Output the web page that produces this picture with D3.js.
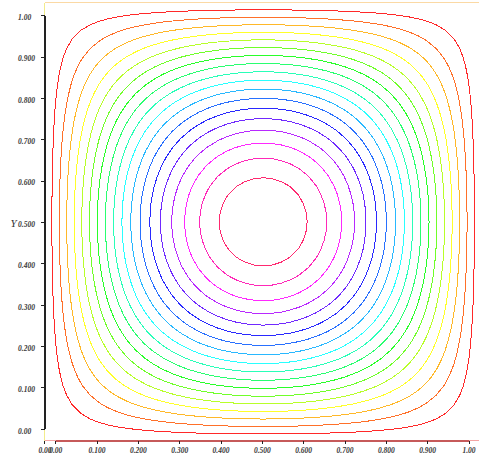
<!DOCTYPE html>
<html>
<head>
<meta charset="utf-8">
<script src="https://cdn.jsdelivr.net/npm/d3@7"></script>
<style>
  html, body { margin: 0; padding: 0; background: #fff; }
  svg { display: block; }
  .tick-label { font-family: "Liberation Serif", "DejaVu Serif", serif; font-style: italic; font-weight: bold; font-size: 7.5px; fill: #3a3a3a; }
  .axis-title { font-family: "Liberation Serif", "DejaVu Serif", serif; font-style: italic; font-size: 11px; fill: #333; }
</style>
</head>
<body>
<svg id="chart" width="479" height="461"></svg>
<script>
// Axis ticks and their labels
const xTickValues = [0, 0.1, 0.2, 0.3, 0.4, 0.5, 0.6, 0.7, 0.8, 0.9, 1.0];
const xTickLabels = ["0.00", "0.100", "0.200", "0.300", "0.400", "0.500", "0.600", "0.700", "0.800", "0.900", "1.00"];
const yTickValues = [0, 0.1, 0.2, 0.3, 0.4, 0.5, 0.6, 0.7, 0.8, 0.9, 1.0];
const yTickLabels = ["0.00", "0.100", "0.200", "0.300", "0.400", "0.500", "0.600", "0.700", "0.800", "0.900", "1.00"];
const originLabel = "0.00";
const yTitle = "Y";

// Extent of the field (zero on its boundary), in axis units
const fieldX = [-0.026, 1.03];
const fieldY = [-0.028, 1.031];

// Contour levels, outermost to innermost
const levels = [0.05, 0.103, 0.156, 0.209, 0.262, 0.315, 0.368, 0.421, 0.474,
                0.526, 0.579, 0.632, 0.685, 0.738, 0.791, 0.844, 0.897, 0.95];
// Hue of each level's line
const levelHues = [0, 20, 40, 60, 80, 100, 120, 140, 160, 180, 200, 220, 240, 260, 280, 300, 320, 340];

const svg = d3.select("#chart");
const x = d3.scaleLinear().domain([0, 1]).range([55.7, 469]);
const y = d3.scaleLinear().domain([0, 1]).range([429.3, 15.7]);

const fx0 = x(fieldX[0]), fx1 = x(fieldX[1]);
const fy0 = y(fieldY[0]), fy1 = y(fieldY[1]);

// Frame around the field
const frame = svg.append("g").attr("shape-rendering", "crispEdges").attr("fill", "none");
frame.append("line").attr("x1", fx0).attr("x2", fx1).attr("y1", fy1).attr("y2", fy1).attr("stroke", "#fbd9a4");
frame.append("line").attr("x1", fx0).attr("x2", fx0).attr("y1", fy1).attr("y2", fy0).attr("stroke", "#f2ec8c");
frame.append("line").attr("x1", fx0).attr("x2", fx1).attr("y1", fy0).attr("y2", fy0).attr("stroke", "#f4a4a4");
frame.append("line").attr("x1", fx1).attr("x2", fx1).attr("y1", fy1).attr("y2", fy0).attr("stroke", "#f4a4a4");

// Field sampled on a regular grid: sin(pi u) * sin(pi v) over the frame
const n = 49;
const values = new Array(n * n);
for (let j = 0; j < n; ++j) {
  for (let i = 0; i < n; ++i) {
    values[j * n + i] = Math.sin(Math.PI * i / (n - 1)) * Math.sin(Math.PI * j / (n - 1));
  }
}
const sx = (fieldX[1] - fieldX[0]) / (n - 1);
const sy = (fieldY[1] - fieldY[0]) / (n - 1);

const contours = d3.contours().size([n, n]).thresholds(levels)(values);
const toScreen = d3.geoTransform({
  point(gx, gy) {
    this.stream.point(x(fieldX[0] + (gx - 0.5) * sx), y(fieldY[0] + (gy - 0.5) * sy));
  }
});
const path = d3.geoPath(toScreen);

svg.append("g")
  .attr("fill", "none")
  .attr("stroke-width", 1)
  .attr("shape-rendering", "crispEdges")
  .selectAll("path")
  .data(contours)
  .join("path")
  .attr("stroke", (d, i) => d3.hsl(levelHues[i], 1, 0.58).formatHex())
  .attr("d", path);

// Y axis
const yAxis = svg.append("g").attr("shape-rendering", "crispEdges");
yAxis.append("line")
  .attr("x1", fx0).attr("x2", fx0)
  .attr("y1", y(1)).attr("y2", y(0))
  .attr("stroke", "#222").attr("stroke-width", 1.3);
yAxis.selectAll("line.tick")
  .data(yTickValues)
  .join("line")
  .attr("class", "tick")
  .attr("x1", fx0 - 4).attr("x2", fx0)
  .attr("y1", d => y(d)).attr("y2", d => y(d))
  .attr("stroke", "#222");
svg.selectAll("text.ylab")
  .data(yTickValues)
  .join("text")
  .attr("class", "ylab tick-label")
  .attr("x", 18)
  .attr("y", d => y(d) + 4.3)
  .text((d, i) => yTickLabels[i]);

svg.append("text")
  .attr("class", "axis-title")
  .attr("x", 13.5)
  .attr("y", y(0.5) + 4)
  .attr("text-anchor", "middle")
  .text(yTitle);

// X axis
const xAxis = svg.append("g").attr("shape-rendering", "crispEdges");
xAxis.append("line")
  .attr("x1", x(0)).attr("x2", x(1))
  .attr("y1", fy0).attr("y2", fy0)
  .attr("stroke", "#c65a5a").attr("stroke-width", 1.3);
xAxis.selectAll("line.tick")
  .data([fieldX[0]].concat(xTickValues))
  .join("line")
  .attr("class", "tick")
  .attr("x1", d => x(d)).attr("x2", d => x(d))
  .attr("y1", fy0).attr("y2", fy0 + 3.5)
  .attr("stroke", "#222");
svg.selectAll("text.xlab")
  .data(xTickValues)
  .join("text")
  .attr("class", "xlab tick-label")
  .attr("x", d => x(d))
  .attr("y", fy0 + 12.3)
  .attr("text-anchor", "middle")
  .text((d, i) => xTickLabels[i]);
svg.append("text")
  .attr("class", "tick-label")
  .attr("x", x(fieldX[0]))
  .attr("y", fy0 + 12.3)
  .attr("text-anchor", "middle")
  .text(originLabel);
</script>
</body>
</html>
